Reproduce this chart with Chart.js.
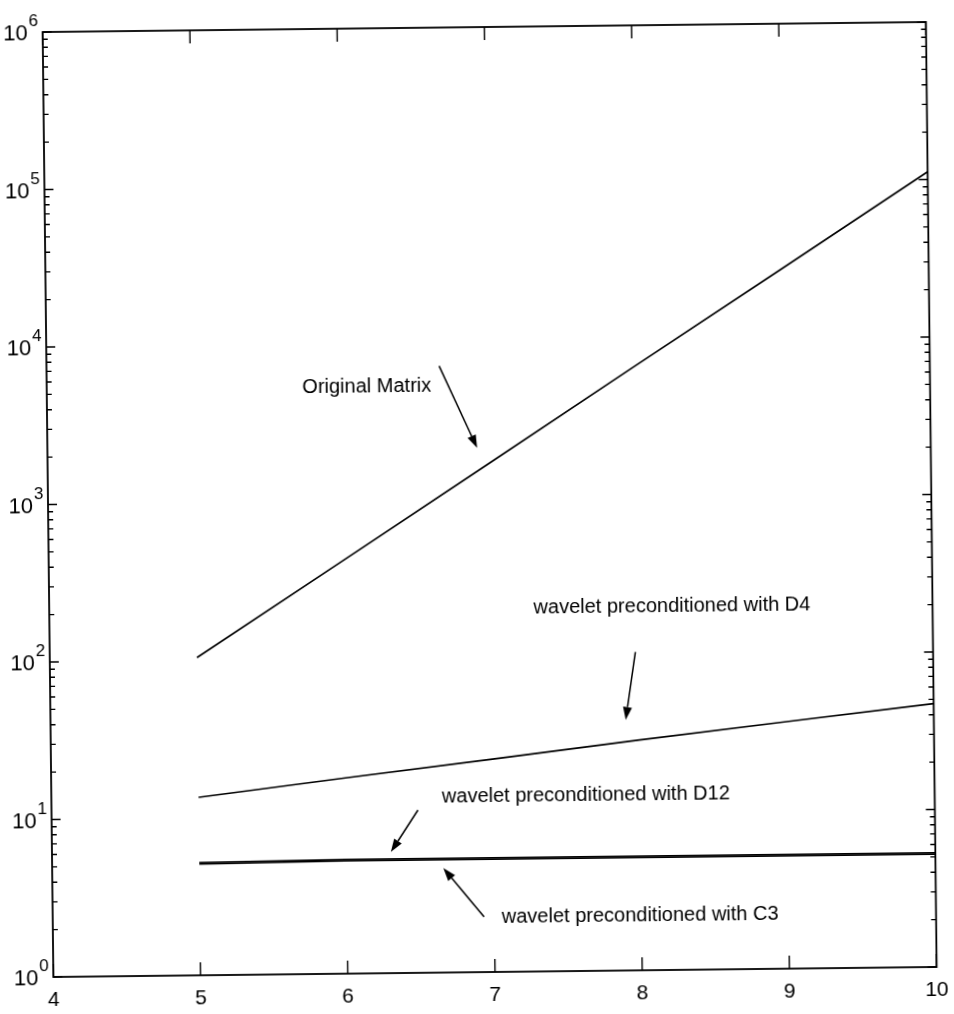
<!DOCTYPE html>
<html>
<head>
<meta charset="utf-8">
<script src="https://cdn.jsdelivr.net/npm/chart.js@4/dist/chart.umd.min.js"></script>
<style>
  html, body { margin: 0; padding: 0; background: #fff; overflow: hidden; }
  #chart { display: block; transform: rotate(-0.65deg); transform-origin: 490px 500px; }
</style>
</head>
<body>
<canvas id="chart" width="954" height="1014"></canvas>
<script>
// sizes on the x axis
const xValues = [5, 6, 7, 8, 9, 10];
// condition numbers
const originalMatrix = [104, 420, 1700, 6900, 27700, 112000];
const waveletD4 = [13.5, 17.5, 22.5, 29, 37, 47];
const waveletD12 = [5.2, 5.3, 5.3, 5.3, 5.3, 5.3];
const waveletC3 = [5.1, 5.2, 5.2, 5.2, 5.2, 5.2];

const xTicks = [4, 5, 6, 7, 8, 9, 10];
const yDecades = [0, 1, 2, 3, 4, 5, 6];

// annotation text and arrows, in data coordinates
const noteLabels = ['Original Matrix', 'wavelet preconditioned with D4',
  'wavelet preconditioned with D12', 'wavelet preconditioned with C3'];
const noteAt = [[5.736, 5330], [7.29, 203], [6.653, 13.0], [7.05, 2.23]];
const arrowFrom = [[6.667, 7100], [7.978, 105], [6.489, 10.8], [6.93, 2.24]];
const arrowTo = [[6.919, 2128], [7.907, 38.9], [6.302, 5.88], [6.657, 4.61]];

const FONT = '"Liberation Sans", Arial, sans-serif';

function pts(ys) {
  return xValues.map((x, i) => ({ x: x, y: ys[i] }));
}

const frame = {
  id: 'frame',
  afterDatasetsDraw(chart) {
    const { ctx, chartArea: a, scales: { x, y } } = chart;
    ctx.save();
    ctx.strokeStyle = '#000';
    ctx.lineWidth = 1.8;
    ctx.strokeRect(a.left, a.top, a.right - a.left, a.bottom - a.top);

    ctx.lineWidth = 1.4;
    ctx.beginPath();
    xTicks.forEach(v => {
      const px = x.getPixelForValue(v);
      ctx.moveTo(px, a.bottom); ctx.lineTo(px, a.bottom - 13);
      ctx.moveTo(px, a.top); ctx.lineTo(px, a.top + 13);
    });
    yDecades.forEach(k => {
      for (let m = 1; m < 10; m++) {
        const v = m * Math.pow(10, k);
        if (v > 1e6) break;
        const py = y.getPixelForValue(v);
        const len = m === 1 ? 9 : 5;
        ctx.moveTo(a.left, py); ctx.lineTo(a.left + len, py);
        ctx.moveTo(a.right, py); ctx.lineTo(a.right - len, py);
      }
    });
    ctx.stroke();

    // arrows
    ctx.fillStyle = '#000';
    ctx.lineWidth = 1.5;
    arrowFrom.forEach((f, i) => {
      const x0 = x.getPixelForValue(f[0]), y0 = y.getPixelForValue(f[1]);
      const x1 = x.getPixelForValue(arrowTo[i][0]), y1 = y.getPixelForValue(arrowTo[i][1]);
      const ang = Math.atan2(y1 - y0, x1 - x0);
      const hl = 13, hw = 4.5;
      ctx.beginPath();
      ctx.moveTo(x0, y0);
      ctx.lineTo(x1 - hl * Math.cos(ang), y1 - hl * Math.sin(ang));
      ctx.stroke();
      ctx.beginPath();
      ctx.moveTo(x1, y1);
      ctx.lineTo(x1 - hl * Math.cos(ang) + hw * Math.sin(ang), y1 - hl * Math.sin(ang) - hw * Math.cos(ang));
      ctx.lineTo(x1 - hl * Math.cos(ang) - hw * Math.sin(ang), y1 - hl * Math.sin(ang) + hw * Math.cos(ang));
      ctx.closePath();
      ctx.fill();
    });

    // text notes
    ctx.font = '20px ' + FONT;
    ctx.textAlign = 'left';
    ctx.textBaseline = 'middle';
    noteLabels.forEach((t, i) => {
      ctx.fillText(t, x.getPixelForValue(noteAt[i][0]), y.getPixelForValue(noteAt[i][1]));
    });
    ctx.restore();
  },
  afterDraw(chart) {
    const { ctx, chartArea: a, scales: { y } } = chart;
    ctx.save();
    ctx.fillStyle = '#000';
    yDecades.forEach(k => {
      const py = y.getPixelForValue(Math.pow(10, k));
      ctx.font = '22px ' + FONT;
      ctx.textAlign = 'right';
      ctx.textBaseline = 'middle';
      ctx.fillText('10', a.left - 15, py + 2);
      ctx.font = '17px ' + FONT;
      ctx.textAlign = 'left';
      ctx.textBaseline = 'alphabetic';
      ctx.fillText(String(k), a.left - 14, py - 6);
    });
    ctx.restore();
  }
};

const line = { borderColor: '#000', borderWidth: 1.7, pointRadius: 0, fill: false, tension: 0 };

new Chart(document.getElementById('chart').getContext('2d'), {
  type: 'line',
  data: {
    datasets: [
      Object.assign({ label: 'Original Matrix', data: pts(originalMatrix) }, line),
      Object.assign({ label: 'D4', data: pts(waveletD4) }, line),
      Object.assign({ label: 'D12', data: pts(waveletD12) }, line),
      Object.assign({ label: 'C3', data: pts(waveletC3) }, line)
    ]
  },
  options: {
    responsive: false,
    animation: false,
    layout: { padding: { left: 0, top: 27, right: 21, bottom: 0 } },
    plugins: { legend: { display: false }, tooltip: { enabled: false } },
    scales: {
      x: {
        type: 'linear', min: 4, max: 10,
        afterFit(s) { s.height = 42; },
        grid: { display: false, drawTicks: false },
        border: { display: false },
        ticks: { stepSize: 1, autoSkip: false, maxRotation: 0, padding: 11, color: '#000',
          font: { size: 21, family: FONT } }
      },
      y: {
        type: 'logarithmic', min: 1, max: 1e6,
        afterFit(s) { s.width = 48; },
        grid: { display: false, drawTicks: false },
        border: { display: false },
        ticks: { display: false }
      }
    }
  },
  plugins: [frame]
});
</script>
</body>
</html>
